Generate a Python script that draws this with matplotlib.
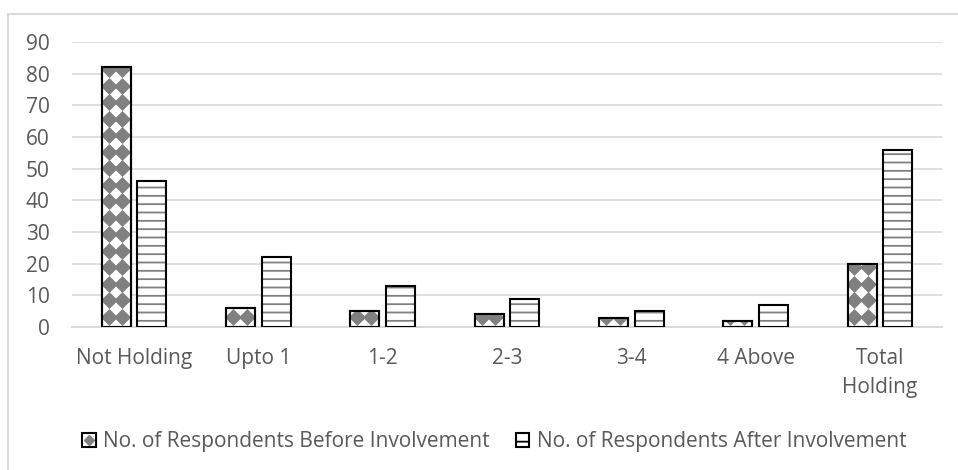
import numpy as np
import matplotlib.pyplot as plt
from matplotlib.patches import Patch
from matplotlib.lines import Line2D

categories = ['Not Holding', 'Upto 1', '1-2', '2-3', '3-4', '4 Above', 'Total\nHolding']
before = [82, 6, 5, 4, 3, 2, 20]
after = [46, 22, 13, 9, 5, 7, 56]
labels = ['No. of Respondents Before Involvement', 'No. of Respondents After Involvement']

plt.rcParams['font.family'] = ['Open Sans', 'DejaVu Sans']
plt.rcParams['hatch.linewidth'] = 1.3

TXT = '#595959'
GRID = '#d9d9d9'
PAT = '#808080'

fig = plt.figure(figsize=(9.58, 4.70), dpi=100)
ax = fig.add_axes([72 / 958, 1 - 327 / 470, (942 - 72) / 958, (327 - 42) / 470])

x = np.arange(len(categories))
off = 0.143
w = 0.233

# before: white bars, black outline, grey diamonds clipped inside
bb = ax.bar(x - off, before, w, color='white', edgecolor='black', linewidth=1.5, zorder=2)
for rect in bb:
    x0 = rect.get_x()
    h = rect.get_height()
    ys = np.arange(3.25, h + 5.3, 5.21)
    xs = [x0 + 0.235 * w, x0 + 0.71 * w]
    gx, gy = np.meshgrid(xs, ys)
    sc = ax.scatter(gx.ravel(), gy.ravel(), marker='D', s=75, color=PAT,
                    linewidths=0, zorder=2.5)
    sc.set_clip_path(rect)
ax.bar(x - off, before, w, fill=False, edgecolor='black', linewidth=1.5, zorder=3)

# after: horizontal grey stripes, black outline on top
ax.bar(x + off, after, w, color='white', edgecolor=PAT, linewidth=0, hatch='--', zorder=2)
ax.bar(x + off, after, w, fill=False, edgecolor='black', linewidth=1.5, zorder=3)

ax.set_xlim(-0.5, len(categories) - 0.5)
ax.set_ylim(0, 90)
ax.set_yticks(range(0, 91, 10))
ax.set_xticks(x)
ax.set_xticklabels(categories, linespacing=1.5)
ax.tick_params(axis='both', length=0, labelsize=15, labelcolor=TXT)
ax.tick_params(axis='y', pad=16)
ax.tick_params(axis='x', pad=15)

ax.yaxis.grid(True, color=GRID, linewidth=1.2)
ax.set_axisbelow(True)
for s in ['top', 'right', 'left']:
    ax.spines[s].set_visible(False)
ax.spines['bottom'].set_color(GRID)
ax.spines['bottom'].set_linewidth(1.4)

h1 = (Patch(facecolor='white', edgecolor='black', linewidth=1.5),
      Line2D([], [], marker='D', color=PAT, linestyle='none', markersize=5))
h2 = Patch(facecolor='white', edgecolor='black', linewidth=1.5, hatch='-')
fig.legend([h1, h2], labels, loc='center', bbox_to_anchor=(494 / 958, 1 - 442 / 470),
           ncol=2, frameon=False, fontsize=15, labelcolor=TXT,
           handlelength=0.67, handleheight=0.67, handletextpad=0.35,
           columnspacing=1.25)

# chart area border
fig.add_artist(Line2D([8 / 958, 1], [1 - 14 / 470] * 2, transform=fig.transFigure,
                      color=GRID, linewidth=1.4))
fig.add_artist(Line2D([8 / 958] * 2, [0, 1 - 14 / 470], transform=fig.transFigure,
                      color=GRID, linewidth=1.4))

fig.savefig('out.png', dpi=100)
